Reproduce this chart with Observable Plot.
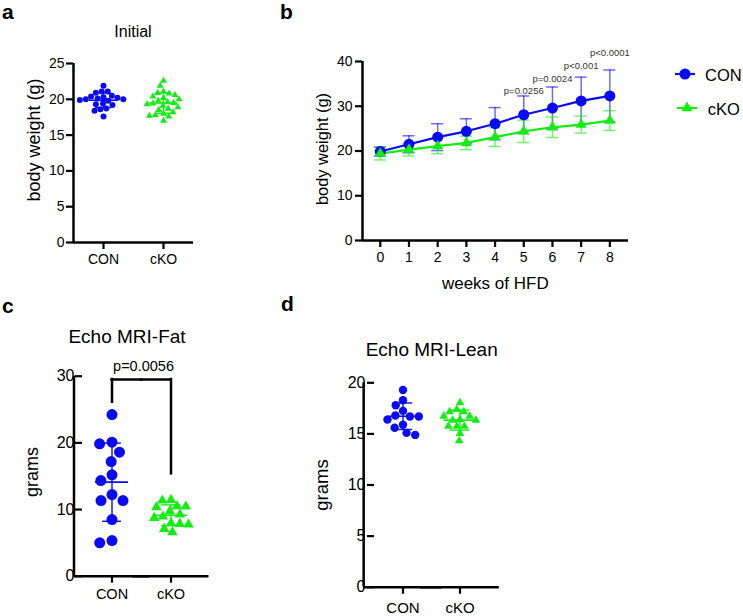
<!DOCTYPE html>
<html><head><meta charset="utf-8">
<script src="https://cdn.jsdelivr.net/npm/d3@7"></script>
<script src="https://cdn.jsdelivr.net/npm/@observablehq/plot@0.6"></script>
<style>
body{margin:0;background:#fff;}
#fig{position:relative;width:743px;height:616px;overflow:hidden;background:#fff;}
#fig svg{position:absolute;}
</style></head><body><div id="fig"></div>
<script>
const FONT = '"Liberation Sans", Arial, Helvetica, sans-serif';
const BLUE = "#0a0af5";
const GREEN = "#12ee12";
const AXW = 2.5;

// ---- data ----
const groups = ["CON", "cKO"];
// panel a: initial body weight (g)
const initialCON = [21.9, 21.1, 21.1, 20.9, 20.5, 20.4, 20.3, 20.2, 20.1, 20.0, 20.0, 19.9, 19.8, 19.4, 19.3, 19.2, 18.7, 18.6, 18.4, 17.6];
const initialCKO = [22.6, 21.9, 21.1, 20.9, 20.8, 20.6, 20.4, 20.2, 20.0, 19.8, 19.6, 19.5, 19.4, 19.3, 19.1, 18.9, 18.7, 18.5, 18.2, 18.0, 17.8, 17.7, 17.6, 17.0];
// panel b: weeks of HFD, mean ± SD
const weeks = [0, 1, 2, 3, 4, 5, 6, 7, 8];
const hfdMeanCON = [19.9, 21.5, 23.1, 24.4, 26.1, 28.1, 29.6, 31.2, 32.3];
const hfdSdCON   = [1.0, 1.9, 3.0, 2.8, 3.6, 4.2, 4.7, 5.3, 5.8];
const hfdMeanCKO = [19.4, 20.3, 21.1, 21.8, 23.1, 24.4, 25.3, 25.9, 26.8];
const hfdSdCKO   = [1.4, 1.4, 1.7, 1.5, 2.1, 2.5, 2.3, 1.9, 2.2];
const pWeeks  = [5, 6, 7, 8];
const pLabels = ["p=0.0256", "p=0.0024", "p<0.001", "p<0.0001"];
const pLabelY = [33.5, 36.0, 38.9, 42.0];
// panel c: Echo MRI fat (grams)
const fatCON = [24.25, 20.1, 19.85, 18.6, 17.2, 15.2, 14.35, 12.25, 11.35, 11.35, 8.5, 5.35, 5.0];
const fatCKO = [11.45, 11.35, 10.5, 10.45, 10.35, 9.75, 9.25, 8.95, 8.75, 7.95, 7.85, 7.75, 7.1, 6.6];
const fatP = "p=0.0056";
const fatBracket = {top: 29.5, conEnd: 26.1, ckoEnd: 15.35};
// panel d: Echo MRI lean (grams)
const leanCON = [19.3, 18.3, 17.8, 17.25, 16.8, 16.7, 16.7, 16.4, 15.9, 15.6, 15.1, 14.9];
const leanCKO = [18.04, 17.39, 17.16, 17.16, 16.73, 16.73, 16.41, 16.34, 16.34, 15.75, 15.75, 15.75, 15.04, 14.32];

const fig = d3.select("#fig");
function place(node, left, top) {
  node.style.position = "absolute"; node.style.left = left + "px"; node.style.top = top + "px";
  fig.node().appendChild(node);
}

function scatterPanel(o) {
  const con = o.valsCON.map(v => ({g: "CON", v}));
  const cko = o.valsCKO.map(v => ({g: "cKO", v}));
  const stats = [["CON", o.valsCON], ["cKO", o.valsCKO]].map(([g, vs]) => ({g, m: d3.mean(vs), s: d3.deviation(vs), c: g === "CON" ? BLUE : GREEN}));
  const po = o.po;
  return Plot.plot({
    width: o.width, height: o.height,
    marginLeft: o.mL, marginRight: o.mR, marginTop: o.mT, marginBottom: o.mB,
    style: {fontFamily: FONT, background: "transparent", overflow: "visible", color: "black"},
    fx: {domain: groups, paddingInner: 0, paddingOuter: po, align: 0.5},
    x: {domain: [0, 1], axis: null},
    y: {domain: [0, o.yMax]},
    marks: [
      Plot.ruleY([0], {x1: -po, x2: 1 + po, stroke: "black", strokeWidth: AXW}),
      Plot.ruleX([{g: "CON"}], {fx: "g", x: () => -po, y1: 0, y2: o.yMax, stroke: "black", strokeWidth: AXW}),
      Plot.axisY({ticks: o.yTicks, tickSize: 7, tickPadding: o.yPad, fontSize: o.yFont, label: null, strokeWidth: 2.2, stroke: "black"}),
      Plot.axisFx({anchor: "bottom", tickSize: 7, tickPadding: o.xPad, fontSize: o.xFont, label: null, strokeWidth: 2.2, stroke: "black"}),
      ...(o.extra || []),
      Plot.dot(con, Plot.dodgeX({anchor: "middle", padding: o.pad}, {fx: "g", y: "v", r: o.r, fill: BLUE, symbol: "circle"})),
      Plot.dot(cko, Plot.dodgeX({anchor: "middle", padding: o.padTri}, {fx: "g", y: "v", r: o.rTri, fill: GREEN, symbol: "triangle"})),
      Plot.ruleY(stats, {fx: "g", y: "m", x1: 0.5 - o.meanHalf, x2: 0.5 + o.meanHalf, stroke: "c", strokeWidth: 1.6}),
      Plot.ruleX(stats, {fx: "g", x: 0.5, y1: d => d.m - d.s, y2: d => d.m + d.s, stroke: "c", strokeWidth: 1.4}),
      Plot.ruleY(stats, {fx: "g", y: d => d.m + d.s, x1: 0.5 - o.capHalf, x2: 0.5 + o.capHalf, stroke: "c", strokeWidth: 1.4}),
      Plot.ruleY(stats, {fx: "g", y: d => d.m - d.s, x1: 0.5 - o.capHalf, x2: 0.5 + o.capHalf, stroke: "c", strokeWidth: 1.4})
    ]
  });
}

// panel a
place(scatterPanel({valsCON: initialCON, valsCKO: initialCKO, yMax: 25, yTicks: [0, 5, 10, 15, 20, 25],
  width: 200, height: 290, mL: 73, mR: 7, mT: 63, mB: 48, po: 0, r: 3, rTri: 2.6, pad: 0, padTri: 0.8,
  yFont: 14, xFont: 14, yPad: 2, xPad: 5, meanHalf: 0.24, capHalf: 0.13}), 0, 0);

// panel c
const fatExtra = [
  Plot.ruleX([{g: "CON", y1: fatBracket.conEnd}, {g: "cKO", y1: fatBracket.ckoEnd}], {fx: "g", x: 0.5, y1: "y1", y2: fatBracket.top, stroke: "black", strokeWidth: AXW, strokeLinecap: "square"}),
  Plot.ruleY([{g: "CON", a: 0.5, b: 1}, {g: "cKO", a: 0, b: 0.5}], {fx: "g", y: fatBracket.top, x1: "a", x2: "b", stroke: "black", strokeWidth: AXW, strokeLinecap: "square"}),
  Plot.text([{g: "CON", t: fatP}], {fx: "g", x: 1, y: fatBracket.top, text: "t", dy: -13, dx: 2, fontSize: 14.5, fill: "black"})
];
place(scatterPanel({valsCON: fatCON, valsCKO: fatCKO, yMax: 30, yTicks: [0, 10, 20, 30],
  width: 230, height: 326, mL: 73, mR: 22, mT: 85.7, mB: 40.3, po: 0.144, r: 5.5, rTri: 3.9, pad: 1.5, padTri: 1,
  yFont: 16, xFont: 14.5, yPad: 1, xPad: 6, meanHalf: 0.28, capHalf: 0.16, extra: fatExtra}), 0, 290);

// panel d
place(scatterPanel({valsCON: leanCON, valsCKO: leanCKO, yMax: 20, yTicks: [0, 5, 10, 15, 20],
  width: 230, height: 316, mL: 72.7, mR: 20, mT: 82.3, mB: 29.3, po: 0.19, r: 4.2, rTri: 3.2, pad: 0.5, padTri: 1,
  yFont: 16, xFont: 15, yPad: 2, xPad: 8, meanHalf: 0.28, capHalf: 0.17}), 290, 300);

// panel b
const hfd = weeks.flatMap((w, i) => [
  {g: "CON", w, m: hfdMeanCON[i], s: hfdSdCON[i]},
  {g: "cKO", w, m: hfdMeanCKO[i], s: hfdSdCKO[i]}
]);
const hCON = hfd.filter(d => d.g === "CON"), hCKO = hfd.filter(d => d.g === "cKO");
const pData = pWeeks.map((w, i) => ({w, t: pLabels[i], y: pLabelY[i]}));
const capW = 0.21;
function errMarks(data, color) {
  return [
    Plot.ruleX(data, {x: "w", y1: d => d.m - d.s, y2: d => d.m + d.s, stroke: color, strokeWidth: 1.5, strokeOpacity: 0.6}),
    Plot.ruleY(data, {y: d => d.m + d.s, x1: d => d.w - capW, x2: d => d.w + capW, stroke: color, strokeWidth: 1.5, strokeOpacity: 0.6}),
    Plot.ruleY(data, {y: d => d.m - d.s, x1: d => d.w - capW, x2: d => d.w + capW, stroke: color, strokeWidth: 1.5, strokeOpacity: 0.6})
  ];
}
place(Plot.plot({
  width: 370, height: 300, marginLeft: 82, marginRight: 22, marginTop: 61, marginBottom: 60,
  style: {fontFamily: FONT, background: "transparent", overflow: "visible", color: "black"},
  x: {domain: [-0.62, 8.65]},
  y: {domain: [0, 40]},
  marks: [
    Plot.ruleY([0], {stroke: "black", strokeWidth: AXW}),
    Plot.ruleX([-0.62], {y1: 0, y2: 40, stroke: "black", strokeWidth: AXW}),
    Plot.axisX({ticks: weeks, tickSize: 7, tickPadding: 5, fontSize: 14, label: null, strokeWidth: 2.2, stroke: "black"}),
    Plot.axisY({ticks: [0, 10, 20, 30, 40], tickSize: 7, tickPadding: 3, fontSize: 14, label: null, strokeWidth: 2.2, stroke: "black"}),
    ...errMarks(hCON, BLUE),
    ...errMarks(hCKO, GREEN),
    Plot.line(hCON, {x: "w", y: "m", stroke: BLUE, strokeWidth: 2.2}),
    Plot.line(hCKO, {x: "w", y: "m", stroke: GREEN, strokeWidth: 2.2}),
    Plot.dot(hCON, {x: "w", y: "m", r: 5.5, fill: BLUE, symbol: "circle"}),
    Plot.dot(hCKO, {x: "w", y: "m", r: 4.1, fill: GREEN, symbol: "triangle"}),
    Plot.text(pData, {x: "w", y: "y", text: "t", fontSize: 9.5, fill: "#333"})
  ]
}), 280, 0);

// overlay texts and legend
const ov = fig.append("svg").attr("width", 743).attr("height", 616)
  .style("left", "0px").style("top", "0px").style("pointer-events", "none")
  .attr("font-family", FONT).attr("fill", "black");
function txt(x, y, s, size, anchor = "start", weight = "normal", rot = false) {
  const t = ov.append("text").attr("font-size", size).attr("text-anchor", anchor).attr("font-weight", weight).text(s);
  if (rot) t.attr("transform", `translate(${x},${y}) rotate(-90)`);
  else t.attr("x", x).attr("y", y);
  return t;
}
txt(2, 19, "a", 21, "start", "bold");
txt(280, 19, "b", 21, "start", "bold");
txt(2, 313, "c", 21, "start", "bold");
txt(281, 311, "d", 21, "start", "bold");
txt(133, 37, "Initial", 16, "middle");
txt(127, 343, "Echo MRI-Fat", 19, "middle");
txt(431.7, 356, "Echo MRI-Lean", 19, "middle");
txt(40, 140, "body weight (g)", 18, "middle", "normal", true);
txt(328.3, 149, "body weight (g)", 16.4, "middle", "normal", true);
txt(495.3, 289, "weeks of HFD", 17, "middle");
txt(38, 472, "grams", 18, "middle", "normal", true);
txt(328, 485, "grams", 18.5, "middle", "normal", true);

// legend
const legend = [
  {label: "CON", color: BLUE, sym: d3.symbolCircle, r: 5.5, lx: 675, ly: 74, tx: 705, ty: 81},
  {label: "cKO", color: GREEN, sym: d3.symbolTriangle, r: 4.1, lx: 677, ly: 108, tx: 707.7, ty: 115}
];
for (const l of legend) {
  ov.append("line").attr("x1", l.lx).attr("x2", l.lx + 20).attr("y1", l.ly).attr("y2", l.ly)
    .attr("stroke", l.color).attr("stroke-width", 2.2);
  ov.append("path").attr("d", d3.symbol(l.sym, Math.PI * l.r * l.r)()).attr("transform", `translate(${l.lx + 10},${l.ly})`).attr("fill", l.color);
  txt(l.tx, l.ty, l.label, 16.5);
}
</script>
</body></html>
